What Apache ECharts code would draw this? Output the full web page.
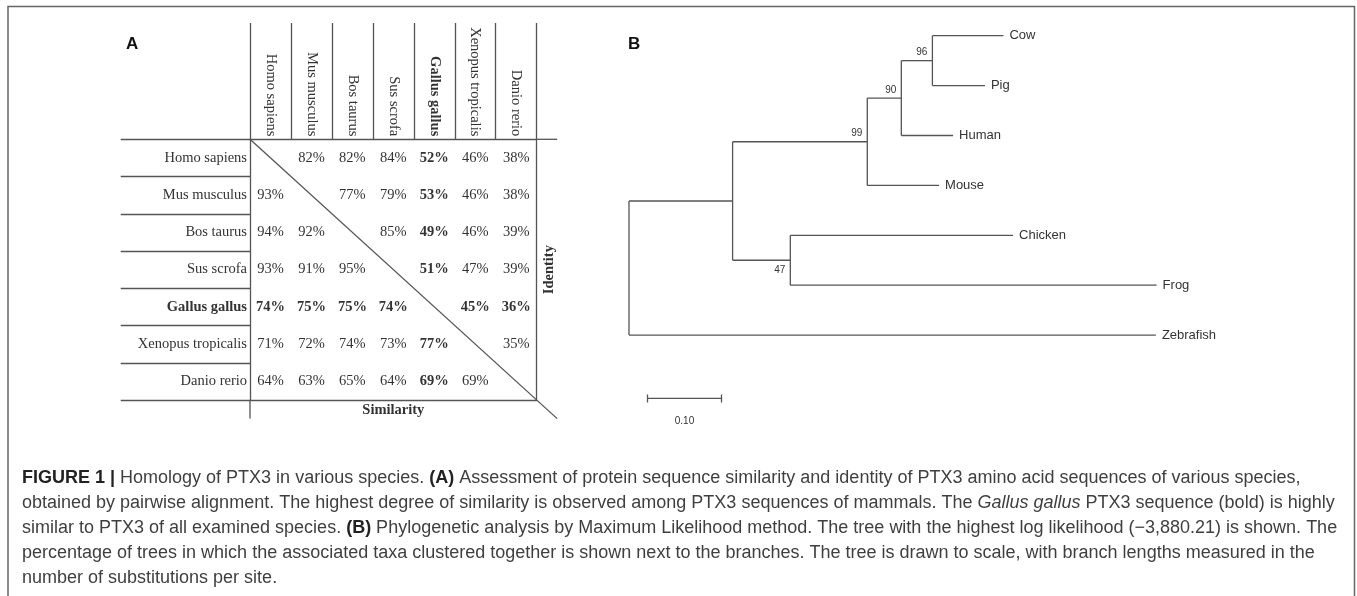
<!DOCTYPE html>
<html>
<head>
<meta charset="utf-8">
<script src="https://cdn.jsdelivr.net/npm/echarts@6/dist/echarts.min.js"></script>
<style>
  html, body { margin: 0; padding: 0; background: #fff; }
  #chart { width: 1357px; height: 596px; }
</style>
</head>
<body>
<div id="chart"></div>
<script>
// ---- panel A: pairwise alignment of PTX3 ----
const species = ['Homo sapiens', 'Mus musculus', 'Bos taurus', 'Sus scrofa', 'Gallus gallus', 'Xenopus tropicalis', 'Danio rerio'];
const boldSpecies = 'Gallus gallus';
// identity, upper triangle: row r, columns r+1 .. end
const identity = [
  [82, 82, 84, 52, 46, 38],
  [77, 79, 53, 46, 38],
  [85, 49, 46, 39],
  [51, 47, 39],
  [45, 36],
  [35]
];
// similarity, lower triangle: row r+1, columns 0 .. r
const similarity = [
  [93],
  [94, 92],
  [93, 91, 95],
  [74, 75, 75, 74],
  [71, 72, 74, 73, 77],
  [64, 63, 65, 64, 69, 69]
];

// ---- panel B: maximum likelihood tree ----
const leafNames = ['Cow', 'Pig', 'Human', 'Mouse', 'Chicken', 'Frog', 'Zebrafish'];
const leafParent = ['n96', 'n96', 'n90', 'n99', 'n47', 'n47', 'root'];
const leafLength = [0.096, 0.071, 0.070, 0.097, 0.301, 0.495, 0.712];
const innerNames = ['n96', 'n90', 'n99', 'n47', 'n1'];
const innerParent = ['n90', 'n99', 'n1', 'n1', 'root'];
const innerLength = [0.042, 0.046, 0.182, 0.078, 0.140];
const bootstrap = [96, 90, 99, 47, null];
const bootstrapBelow = [false, false, false, true, false];
const scaleBarLength = 0.10;
const scaleBarLabel = '0.10';

const captionLines = [
  '{b|FIGURE 1 |} Homology of PTX3 in various species. {b|(A)} Assessment of protein sequence similarity and identity of PTX3 amino acid sequences of various species,',
  'obtained by pairwise alignment. The highest degree of similarity is observed among PTX3 sequences of mammals. The {i|Gallus gallus} PTX3 sequence (bold) is highly',
  'similar to PTX3 of all examined species. {b|(B)} Phylogenetic analysis by Maximum Likelihood method. The tree with the highest log likelihood (\u22123,880.21) is shown. The',
  'percentage of trees in which the associated taxa clustered together is shown next to the branches. The tree is drawn to scale, with branch lengths measured in the',
  'number of substitutions per site.'
];

const SERIF = '"Liberation Serif", "Times New Roman", serif';
const SANS = '"Liberation Sans", Arial, sans-serif';
const INK = '#333';
const LINE = '#555';
const TABLE_FONT = 14.5;

// table cells
const n = species.length;
const isBold = (r, c) => species[r] === boldSpecies || species[c] === boldSpecies ? 1 : 0;
const cells = [];
identity.forEach((row, r) => row.forEach((v, k) => {
  const c = r + 1 + k;
  cells.push([c, r, v, isBold(r, c)]);
}));
similarity.forEach((row, k) => row.forEach((v, c) => {
  const r = k + 1;
  cells.push([c, r, v, isBold(r, c)]);
}));

// tree layout from parent links
const parentOf = {}, lenOf = {};
leafNames.forEach((nm, i) => { parentOf[nm] = leafParent[i]; lenOf[nm] = leafLength[i]; });
innerNames.forEach((nm, i) => { parentOf[nm] = innerParent[i]; lenOf[nm] = innerLength[i]; });
const kids = {};
Object.keys(parentOf).forEach(nm => { (kids[parentOf[nm]] = kids[parentOf[nm]] || []).push(nm); });
const depth = nm => nm === 'root' ? 0 : depth(parentOf[nm]) + lenOf[nm];
const rowOf = {};
leafNames.forEach((nm, i) => { rowOf[nm] = i; });
const rowFor = nm => {
  if (nm in rowOf) return rowOf[nm];
  const ys = kids[nm].map(rowFor);
  rowOf[nm] = (Math.min(...ys) + Math.max(...ys)) / 2;
  return rowOf[nm];
};
const edges = [];
Object.keys(parentOf).forEach(nm => {
  edges.push([depth(parentOf[nm]), rowFor(nm), depth(nm), rowFor(nm)]);
});
innerNames.concat(['root']).forEach(nm => {
  const ys = kids[nm].map(rowFor);
  edges.push([depth(nm), Math.min(...ys), depth(nm), Math.max(...ys)]);
});
const leafPoints = leafNames.map(nm => [depth(nm), rowFor(nm)]);
const bootIdx = innerNames.map((nm, i) => i).filter(i => bootstrap[i] != null);
const bootPoints = bootIdx.map(i => [depth(innerNames[i]), rowFor(innerNames[i])]);

// caption font size fitted to the measured line width
const ctx = document.createElement('canvas').getContext('2d');
ctx.font = '18px "Liberation Sans"';
const capSize = Math.round(18 * 1296 / ctx.measureText(captionLines[3]).width * 10) / 10;

const speciesLabel = v => v === boldSpecies ? '{b|' + v + '}' : v;
const labelRich = { b: { fontWeight: 'bold', fontFamily: SERIF, fontSize: TABLE_FONT, color: INK } };
const lineStyle = { color: LINE, width: 1.3 };

const segment = (params, api) => {
  const p1 = api.coord([api.value(0), api.value(1)]);
  const p2 = api.coord([api.value(2), api.value(3)]);
  return {
    type: 'line',
    shape: { x1: p1[0], y1: p1[1], x2: p2[0], y2: p2[1] },
    style: { stroke: LINE, lineWidth: 1.3 }
  };
};

const chart = echarts.init(document.getElementById('chart'));
chart.setOption({
  animation: false,
  backgroundColor: '#fff',
  grid: [
    { left: 250, top: 139.3, width: 286.7, height: 260.7 },
    { left: 629, top: 35.7, width: 666, height: 399.2 }
  ],
  xAxis: [
    {
      gridIndex: 0, type: 'category', position: 'top', data: species,
      axisLine: { show: true, onZero: false, lineStyle },
      axisTick: { show: true, length: 116.3, interval: 0, lineStyle },
      axisLabel: {
        interval: 0, rotate: 90, margin: 3, fontFamily: SERIF, fontSize: TABLE_FONT, color: INK,
        formatter: speciesLabel, rich: labelRich
      },
      splitLine: { show: false }
    },
    { gridIndex: 0, type: 'value', min: 0, max: n, show: false },
    {
      gridIndex: 0, type: 'category', position: 'bottom', data: species,
      axisLine: { show: true, onZero: false, lineStyle },
      axisTick: { show: false }, axisLabel: { show: false }, splitLine: { show: false },
      name: 'Similarity', nameLocation: 'middle', nameGap: 3,
      nameTextStyle: { fontFamily: SERIF, fontSize: TABLE_FONT, fontWeight: 'bold', color: INK }
    },
    { gridIndex: 1, type: 'value', min: 0, max: 0.9, show: false }
  ],
  yAxis: [
    {
      gridIndex: 0, type: 'category', position: 'left', inverse: true, data: species,
      axisLine: { show: true, onZero: false, lineStyle },
      axisTick: { show: true, length: 129.3, interval: 0, lineStyle },
      axisLabel: {
        interval: 0, margin: 3, fontFamily: SERIF, fontSize: TABLE_FONT, color: INK,
        formatter: speciesLabel, rich: labelRich
      },
      splitLine: { show: false }
    },
    { gridIndex: 0, type: 'value', min: 0, max: n, inverse: true, show: false },
    {
      gridIndex: 0, type: 'category', position: 'right', inverse: true, data: species,
      axisLine: { show: true, onZero: false, lineStyle },
      axisTick: { show: false }, axisLabel: { show: false }, splitLine: { show: false },
      name: 'Identity', nameLocation: 'middle', nameRotate: 90, nameGap: 5,
      nameTextStyle: { fontFamily: SERIF, fontSize: TABLE_FONT, fontWeight: 'bold', color: INK }
    },
    { gridIndex: 1, type: 'value', min: 0, max: 8, inverse: true, show: false }
  ],
  graphic: [
    {
      type: 'polyline', silent: true,
      shape: { points: [[8, 620], [8, 6.5], [1354.5, 6.5], [1354.5, 620]] },
      style: { stroke: '#666', lineWidth: 1.5, fill: null }
    },
    {
      type: 'text', x: 126, y: 44,
      style: { text: 'A', fontFamily: SANS, fontSize: 17, fontWeight: 'bold', fill: '#111', verticalAlign: 'middle' }
    },
    {
      type: 'text', x: 628, y: 44,
      style: { text: 'B', fontFamily: SANS, fontSize: 17, fontWeight: 'bold', fill: '#111', verticalAlign: 'middle' }
    }
  ].concat(captionLines.map((t, i) => ({
    type: 'text', x: 22, y: 478 + i * 25,
    style: {
      text: t, fontFamily: SANS, fontSize: capSize, fill: '#3f3f3f', verticalAlign: 'middle',
      rich: {
        b: { fontFamily: SANS, fontSize: capSize, fontWeight: 'bold', fill: '#222' },
        i: { fontFamily: SANS, fontSize: capSize, fontStyle: 'italic', fill: '#3f3f3f' }
      }
    }
  }))),
  series: [
    {
      // diagonal and the short extensions of the table frame
      type: 'custom', xAxisIndex: 1, yAxisIndex: 1, silent: true, clip: false,
      data: [[0, 0, n + 0.5, n + 0.5], [n, 0, n + 0.5, 0], [0, n, 0, n + 0.5]],
      renderItem: segment
    },
    {
      type: 'custom', xAxisIndex: 0, yAxisIndex: 0, silent: true, clip: false,
      data: cells,
      renderItem: (params, api) => {
        const pt = api.coord([api.value(0), api.value(1)]);
        return {
          type: 'text', x: pt[0], y: pt[1],
          style: {
            text: api.value(2) + '%', fill: INK, fontFamily: SERIF, fontSize: TABLE_FONT,
            fontWeight: api.value(3) ? 'bold' : 'normal', align: 'center', verticalAlign: 'middle'
          }
        };
      }
    },
    {
      type: 'custom', xAxisIndex: 3, yAxisIndex: 3, silent: true, clip: false,
      data: edges, renderItem: segment
    },
    {
      type: 'custom', xAxisIndex: 3, yAxisIndex: 3, silent: true, clip: false,
      data: leafPoints,
      renderItem: (params, api) => {
        const pt = api.coord([api.value(0), api.value(1)]);
        return {
          type: 'text', x: pt[0] + 6, y: pt[1],
          style: {
            text: leafNames[params.dataIndex], fill: INK, fontFamily: SANS, fontSize: 13,
            align: 'left', verticalAlign: 'middle'
          }
        };
      }
    },
    {
      type: 'custom', xAxisIndex: 3, yAxisIndex: 3, silent: true, clip: false,
      data: bootPoints,
      renderItem: (params, api) => {
        const i = bootIdx[params.dataIndex];
        const pt = api.coord([api.value(0), api.value(1)]);
        const below = bootstrapBelow[i];
        return {
          type: 'text', x: pt[0] - 5, y: below ? pt[1] + 5 : pt[1] - 3,
          style: {
            text: String(bootstrap[i]), fill: INK, fontFamily: SANS, fontSize: 10,
            align: 'right', verticalAlign: below ? 'top' : 'bottom'
          }
        };
      }
    },
    {
      type: 'custom', xAxisIndex: 3, yAxisIndex: 3, silent: true, clip: false,
      data: [[0.025, 7.27, 0.025 + scaleBarLength]],
      renderItem: (params, api) => {
        const a = api.coord([api.value(0), api.value(1)]);
        const b = api.coord([api.value(2), api.value(1)]);
        const st = { stroke: LINE, lineWidth: 1.3 };
        return {
          type: 'group',
          children: [
            { type: 'line', shape: { x1: a[0], y1: a[1], x2: b[0], y2: b[1] }, style: st },
            { type: 'line', shape: { x1: a[0], y1: a[1] - 4, x2: a[0], y2: a[1] + 4 }, style: st },
            { type: 'line', shape: { x1: b[0], y1: b[1] - 4, x2: b[0], y2: b[1] + 4 }, style: st },
            {
              type: 'text', x: (a[0] + b[0]) / 2, y: a[1] + 23,
              style: { text: scaleBarLabel, fill: INK, fontFamily: SANS, fontSize: 10, align: 'center', verticalAlign: 'middle' }
            }
          ]
        };
      }
    }
  ]
});
</script>
</body>
</html>
